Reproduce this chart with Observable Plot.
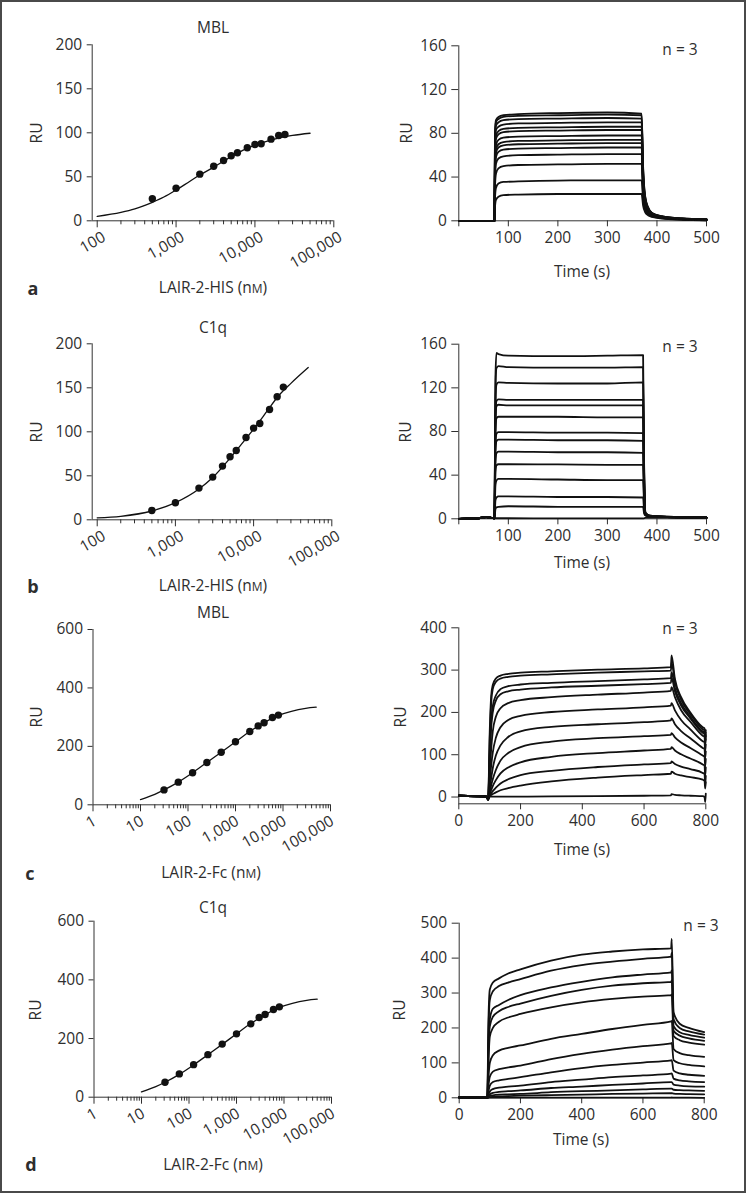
<!DOCTYPE html>
<html><head><meta charset="utf-8">
<script src="https://cdn.jsdelivr.net/npm/d3@7"></script>
<script src="https://cdn.jsdelivr.net/npm/@observablehq/plot@0.6"></script>
<style>
html,body{margin:0;padding:0;background:#fff;}
#fig{position:relative;width:746px;height:1193px;font-family:"Open Sans",sans-serif;color:#2e2e2e;overflow:hidden;background:#fff}
#frame{position:absolute;left:0;top:0;width:746px;height:1193px;box-sizing:border-box;border:2px solid #4a4a4a;pointer-events:none}
.lbl{position:absolute;font-size:15.5px;white-space:nowrap;transform:translate(-50%,-50%);line-height:1}
.ru{transform:translate(-50%,-50%) rotate(-90deg);}
.pl{font-weight:bold;font-size:18px;}
.sc{font-size:12px;}
</style></head><body><div id="fig"><div id="frame"></div></div>
<script>
// ================= DATA =================
// (a) MBL vs LAIR-2-HIS: dose-response
const aConc = [500, 1000, 2000, 3000, 4000, 5000, 6000, 8000, 10000, 12000, 16000, 20000, 24000];
const aRU   = [25, 37, 53, 62, 68.6, 73.9, 77.3, 83, 86.7, 87.5, 92.8, 97, 98.1];
const aFitConc = [100, 200, 300, 500, 700, 1000, 1500, 2000, 3000, 5000, 7000, 10000, 15000, 20000, 30000, 50000];
const aFitRU   = [5, 9.5, 13.5, 21, 27, 35, 45, 52, 61, 73, 80, 86, 91, 94, 97, 99.5];
// (a) sensorgrams
const aTime = [0, 72, 73, 75, 80, 90, 120, 200, 300, 369, 372, 376, 382, 390, 410, 450, 500];
const aCurves = [
  [0, 0, 12, 19, 22, 23.5, 24, 24.5, 24.5, 24.5, 14, 8, 5, 3.5, 2, 1, 0.5],
  [0, 0, 20, 30, 34, 35.5, 36, 36.8, 37, 37, 19, 10, 6, 4, 2.5, 1.2, 0.5],
  [0, 0, 30, 43, 48, 50, 51, 51.5, 52, 52, 24, 12, 7, 4.5, 2.7, 1.3, 0.6],
  [0, 0, 36, 52, 57, 59, 60, 60.5, 61, 61, 28, 13, 7.5, 5, 3, 1.4, 0.7],
  [0, 0, 42, 58, 63, 65, 66, 66.5, 67, 67, 31, 14, 8, 5, 3, 1.5, 0.8],
  [0, 0, 46, 62, 67, 69, 70, 70.5, 71, 71, 33, 15, 8.5, 5.3, 3.1, 1.5, 0.8],
  [0, 0, 50, 65, 70, 72, 73, 73.5, 74, 74, 35, 16, 9, 5.5, 3.2, 1.6, 0.9],
  [0, 0, 54, 69, 74, 76, 77, 77.5, 78, 78, 37, 17, 9.5, 5.8, 3.3, 1.7, 1],
  [0, 0, 60, 75, 79, 81, 82, 82.5, 83, 83, 40, 18, 10, 6, 3.5, 1.8, 1],
  [0, 0, 63, 78, 82, 84, 85, 85.5, 86, 86, 42, 19, 10.5, 6.2, 3.6, 1.9, 1.1],
  [0, 0, 68, 83, 86, 88, 89, 89.5, 90, 90, 44, 20, 11, 6.5, 3.7, 2, 1.2],
  [0, 0, 73, 87, 90, 92, 93, 93.5, 94, 93.5, 46, 21, 11.5, 6.8, 3.8, 2, 1.3],
  [0, 0, 77, 90, 93, 95, 96, 96.5, 97, 96.5, 48, 22, 12, 7, 4, 2.1, 1.4],
  [0, 0, 80, 92, 95, 96.5, 97.5, 98.5, 99, 98, 50, 23, 12.5, 7.2, 4.2, 2.2, 1.5]
];

// (b) C1q vs LAIR-2-HIS
const bConc = [500, 1000, 2000, 3000, 4000, 5000, 6000, 8000, 10000, 12000, 16000, 20000, 24000];
const bRU   = [10.6, 19.3, 36, 48.5, 61, 71.6, 78.8, 93.6, 104.2, 109.5, 125.4, 139.8, 150.8];
const bFitConc = [100, 200, 500, 1000, 2000, 3000, 5000, 7000, 10000, 15000, 20000, 30000, 50000];
const bFitRU   = [2.3, 4, 10, 19.5, 35, 48, 70, 86, 103, 124, 139, 155, 173];
const bTime = [0, 40, 55, 72, 74, 76, 80, 100, 200, 300, 372, 374, 377, 385, 420, 500];
const bCurves = [
  [0, 0.5, 1.5, 0.5, 9, 10.5, 11, 11.5, 11, 11, 11, 5, 3, 2, 1.5, 1],
  [0, 0.5, 1.5, 0.5, 17, 19.5, 20.5, 20.5, 20, 20, 19.5, 8, 3.2, 2, 1.5, 1],
  [0, 0.5, 1.5, 0.5, 31, 35, 36.5, 36.5, 36, 35.5, 35.5, 13, 3.5, 2.2, 1.5, 1],
  [0, 0.5, 1.5, 0.5, 43, 49, 50, 50, 49.8, 49.5, 49.5, 18, 3.8, 2.3, 1.6, 1],
  [0, 0.5, 1.5, 0.5, 52, 60, 61.5, 61.5, 61, 61, 60.5, 22, 4, 2.4, 1.6, 1],
  [0, 0.5, 1.5, 0.5, 62, 71, 72.5, 72.5, 72, 72, 71.5, 26, 4.2, 2.5, 1.7, 1],
  [0, 0.5, 1.5, 0.5, 68, 78, 79.5, 79.5, 79, 79, 78.5, 28, 4.3, 2.5, 1.7, 1],
  [0, 0.5, 1.5, 0.5, 80, 92, 93.5, 93.5, 93.5, 93, 93, 33, 4.5, 2.6, 1.7, 1],
  [0, 0.5, 1.5, 0.5, 90, 103, 104.5, 104, 104, 104, 104, 37, 4.7, 2.7, 1.8, 1],
  [0, 0.5, 1.5, 0.5, 94, 108, 109.5, 109, 109, 109, 109, 39, 4.8, 2.7, 1.8, 1.1],
  [0, 0.5, 1.5, 0.5, 107, 123, 125, 124.5, 124, 124, 125, 44, 5, 2.8, 1.8, 1.1],
  [0, 0.5, 1.5, 0.5, 120, 138, 140, 139, 138.5, 138.5, 139, 49, 5.2, 2.9, 1.9, 1.1],
  [0, 0.5, 1.5, 0.5, 130, 152, 151, 149.5, 149, 149.5, 150, 53, 5.4, 3, 1.9, 1.1],
  [0, 0.5, 1.5, 0.5, 0.5, 0.5, 0.5, 0.5, 0.3, 0.3, 0.3, 0.5, 1, 1, 1, 1]
];

// (c) MBL vs LAIR-2-Fc
const cConc = [31.25, 62.5, 125, 250, 500, 1000, 2000, 3000, 4000, 6000, 8000];
const cRU   = [51, 77.6, 109.5, 145, 180, 215.6, 251, 270, 280.6, 299, 307];
const cFitConc = [10, 20, 31.25, 62.5, 125, 250, 500, 1000, 2000, 4000, 8000, 15000, 30000, 50000];
const cFitRU   = [18, 36, 51, 77.6, 109.5, 145, 180, 215.6, 251, 281, 306, 320, 330, 334];
const cTime = [0, 90, 95, 100, 105, 110, 120, 135, 160, 200, 300, 450, 600, 687, 689, 700, 720, 750, 790, 796, 798, 800];
const cCurves = [
  [3, 1, -6, 150, 240, 265, 280, 287, 291, 294, 297, 301, 304, 307, 335, 279, 236, 200, 165, 162, 145, 158],
  [3, 1, -6, 130, 225, 255, 272, 280, 284, 287, 290, 294, 297, 299, 318, 272, 230, 196, 160, 157, 140, 152],
  [3, 1, -6, 100, 180, 215, 240, 255, 262, 266, 270, 274, 278, 281, 295, 258, 222, 190, 155, 152, 135, 147],
  [3, 1, -6, 90, 165, 200, 228, 243, 250, 254, 259, 263, 267, 270, 282, 250, 216, 186, 152, 149, 130, 144],
  [3, 1, -6, 60, 115, 155, 190, 210, 222, 229, 236, 242, 247, 251, 260, 236, 205, 178, 145, 142, 122, 137],
  [3, 1, -6, 35, 75, 105, 140, 165, 182, 192, 201, 207, 212, 216, 222, 205, 182, 160, 132, 129, 108, 124],
  [3, 1, -6, 20, 45, 68, 98, 122, 142, 155, 166, 172, 177, 181, 186, 172, 156, 139, 116, 113, 92, 108],
  [3, 1, -6, 12, 28, 42, 64, 86, 104, 118, 131, 139, 144, 147, 151, 141, 129, 116, 98, 95, 72, 90],
  [3, 1, -6, 7, 17, 26, 40, 56, 70, 82, 95, 104, 110, 114, 118, 110, 101, 91, 77, 74, 50, 70],
  [3, 1, -6, 4, 9, 14, 22, 32, 42, 52, 62, 71, 77, 80, 84, 78, 72, 66, 57, 54, 28, 50],
  [3, 1, -6, 2, 5, 7, 11, 16, 21, 27, 37, 46, 52, 55, 60, 55, 51, 47, 41, 38, 20, 35],
  [3, 1, -6, 1, 1, 1, 1, 1, 1, 1, 1.5, 2, 3, 4, 7, 5, 4, 3, 2, 0, -12, 8]
];

// (d) C1q vs LAIR-2-Fc
const dConc = [31.25, 62.5, 125, 250, 500, 1000, 2000, 3000, 4000, 6000, 8000];
const dRU   = [51, 79.5, 111, 145, 181, 216, 250, 271.6, 282, 299, 308];
const dFitConc = [10, 20, 31.25, 62.5, 125, 250, 500, 1000, 2000, 4000, 8000, 15000, 30000, 50000];
const dFitRU   = [18, 36, 51, 78, 110, 145, 180, 216, 251, 281, 306, 320, 330, 334];
const dTime = [0, 88, 92, 95, 100, 110, 130, 160, 200, 300, 400, 500, 600, 692, 694, 700, 720, 750, 800];
const dCurves = [
  [1, 0.5, 0, 200, 310, 330, 342, 356, 368, 393, 410, 419, 425, 428, 455, 245, 212, 200, 188],
  [1, 0.5, 0, 170, 280, 305, 320, 330, 340, 364, 380, 390, 398, 404, 415, 225, 200, 190, 181],
  [1, 0.5, 0, 130, 225, 255, 266, 280, 294, 316, 332, 345, 353, 359, 365, 205, 188, 180, 172],
  [1, 0.5, 0, 110, 205, 232, 248, 260, 270, 292, 309, 321, 328, 332, 336, 192, 178, 170, 163],
  [1, 0.5, 0, 90, 175, 200, 218, 230, 240, 259, 273, 283, 290, 294, 296, 177, 165, 158, 152],
  [1, 0.5, 0, 50, 100, 122, 135, 143, 150, 169, 183, 197, 209, 219, 220, 140, 128, 122, 117],
  [1, 0.5, 0, 30, 60, 75, 82, 87, 92, 111, 126, 138, 148, 156, 157, 108, 99, 94, 90],
  [1, 0.5, 0, 15, 35, 45, 50, 54, 59, 73, 85, 94, 101, 107, 108, 78, 70, 66, 63],
  [1, 0.5, 0, 8, 18, 25, 29, 32, 35, 45, 52, 59, 64, 69, 70, 55, 50, 47, 45],
  [1, 0.5, 0, 4, 10, 14, 17, 19, 21, 28, 32, 37, 41, 45, 45, 38, 35, 33, 32],
  [1, 0.5, 0, 2, 5, 7, 9, 10, 11, 16, 19, 21, 24, 26, 26, 23, 22, 21, 20],
  [1, 0.5, 0, 1, 2, 3, 4, 5, 6, 7.5, 9, 11, 12, 13, 13, 12, 11, 10.5, 10],
  [1, 0.5, 0, 0, 0.5, 0.5, 0.5, 0.5, 0.5, 0.5, 0.5, 0.5, 0.5, 0.5, 1, 0.5, 0.5, 0.5, 0]
];

// tick values
const logMajorHIS = [100, 1000, 10000, 100000];
const logMajorFc = [1, 10, 100, 1000, 10000, 100000];
const yTicksHIS = [0, 50, 100, 150, 200];
const yTicksFc = [0, 200, 400, 600];
const yTicksA = [0, 40, 80, 120, 160];
const yTicksC = [0, 100, 200, 300, 400];
const yTicksD = [0, 100, 200, 300, 400, 500];
const tTicks500 = [0, 100, 200, 300, 400, 500];
const tTicks800 = [0, 200, 400, 600, 800];

// ================= DRAWING =================
const fig = document.getElementById("fig");
const STYLE = {fontFamily: '"Open Sans", sans-serif', fontSize: "15.5px", color: "#2e2e2e", background: "transparent", overflow: "visible"};
const INK = "#111";
const fmt = d3.format(",");

function minorTicks(lo, hi) {
  const t = [];
  for (let e = lo; e < hi; e++) for (let k = 2; k <= 9; k++) t.push(k * Math.pow(10, e));
  return t;
}
function pts(xs, ys) { return xs.map((x, i) => ({x, y: ys[i]})); }
function rows(times, curves) { return curves.flatMap((c, k) => times.map((t, i) => ({t, v: c[i], k}))); }

function panel(o) {
  const W = 373, H = 285;
  const svg = Plot.plot({
    width: W, height: H,
    marginLeft: o.x0 - o.left, marginRight: o.left + W - o.x1,
    marginTop: o.yT - o.top, marginBottom: o.top + H - o.yB,
    x: {...o.x, label: null}, y: {...o.y, label: null},
    style: STYLE,
    marks: o.marks
  });
  svg.style.position = "absolute";
  svg.style.left = o.left + "px";
  svg.style.top = o.top + "px";
  svg.style.maxWidth = "none";
  fig.appendChild(svg);
}

function label(html, x, y, cls = "") {
  const d = document.createElement("div");
  d.className = "lbl " + cls;
  d.innerHTML = html;
  d.style.left = x + "px";
  d.style.top = y + "px";
  fig.appendChild(d);
}

function doseMarks(conc, ru, fitC, fitR, xMin, yMin, majors, minors, yTicks, dx) {
  return [
    Plot.ruleX([xMin], {stroke: "#333", strokeWidth: 1}),
    Plot.ruleY([yMin], {stroke: "#333", strokeWidth: 1}),
    Plot.axisY({ticks: yTicks, tickSize: 5, tickPadding: 5, label: null}),
    Plot.axisX({ticks: majors, tickSize: 7, fill: "none", label: null}),
    Plot.axisX({ticks: minors, tickSize: 4, fill: "none", label: null}),
    Plot.axisX({ticks: majors, tickSize: 0, tickPadding: 15, tickRotate: -30, dx, tickFormat: fmt, label: null}),
    Plot.line(pts(fitC, fitR), {x: "x", y: "y", curve: "monotone-x", stroke: INK, strokeWidth: 1.3}),
    Plot.dot(pts(conc, ru), {x: "x", y: "y", r: 3.7, fill: INK, stroke: "none"})
  ];
}

function sensorMarks(time, curves, yMin, yTicks, tTicks, hideZero) {
  return [
    Plot.ruleX([0], {stroke: "#333", strokeWidth: 1}),
    Plot.ruleY([yMin], {stroke: "#333", strokeWidth: 1}),
    Plot.axisY({ticks: yTicks, tickSize: 7, tickPadding: 5, label: null}),
    Plot.axisX({ticks: tTicks, tickSize: 6, tickPadding: 5, tickFormat: d => (hideZero && d === 0) ? "" : String(d), label: null}),
    Plot.line(rows(time, curves), {x: "t", y: "v", z: "k", curve: "monotone-x", stroke: INK, strokeWidth: 1.8})
  ];
}

// ---- (a) ----
panel({left: 0, top: 0, x0: 91.7, x1: 333.3, yT: 44.3, yB: 220.3,
  x: {type: "log", domain: [86.4, 100000]}, y: {domain: [0, 200]},
  marks: doseMarks(aConc, aRU, aFitConc, aFitRU, 86.4, 0, logMajorHIS, minorTicks(2, 5), yTicksHIS, 7)});
panel({left: 373, top: 0, x0: 458.3, x1: 706, yT: 45.3, yB: 220.3,
  x: {domain: [0, 500]}, y: {domain: [0, 160]},
  marks: sensorMarks(aTime, aCurves, 0, yTicksA, tTicks500, true)});

// ---- (b) ----
panel({left: 0, top: 300, x0: 91.7, x1: 331.3, yT: 343.3, yB: 519.3,
  x: {type: "log", domain: [86.3, 100000]}, y: {domain: [0, 200]},
  marks: doseMarks(bConc, bRU, bFitConc, bFitRU, 86.3, 0, logMajorHIS, minorTicks(2, 5), yTicksHIS, 7)});
panel({left: 373, top: 300, x0: 458.3, x1: 706, yT: 343.7, yB: 518.3,
  x: {domain: [0, 500]}, y: {domain: [0, 160]},
  marks: sensorMarks(bTime, bCurves, 0, yTicksA, tTicks500, true)});

// ---- (c) ----
panel({left: 0, top: 580, x0: 92.5, x1: 330, yT: 629, yB: 804.3,
  x: {type: "log", domain: [1, 100000]}, y: {domain: [0, 600]},
  marks: doseMarks(cConc, cRU, cFitConc, cFitRU, 1, 0, logMajorFc, minorTicks(0, 5), yTicksFc, 2)});
panel({left: 373, top: 580, x0: 458.3, x1: 705.3, yT: 627.3, yB: 803.3,
  x: {domain: [0, 800]}, y: {domain: [-16, 400]},
  marks: sensorMarks(cTime, cCurves, -16, yTicksC, tTicks800, false)});

// ---- (d) ----
panel({left: 0, top: 880, x0: 93.5, x1: 331, yT: 920.7, yB: 1096.7,
  x: {type: "log", domain: [1, 100000]}, y: {domain: [0, 600]},
  marks: doseMarks(dConc, dRU, dFitConc, dFitRU, 1, 0, logMajorFc, minorTicks(0, 5), yTicksFc, 2)});
panel({left: 373, top: 880, x0: 458.7, x1: 703.7, yT: 922.7, yB: 1097.3,
  x: {domain: [0, 800]}, y: {domain: [0, 500]},
  marks: sensorMarks(dTime, dCurves, 0, yTicksD, tTicks800, false)});

// ---- labels ----
const nM = 'n<span class="sc">M</span>';
label("MBL", 213, 28);
label("RU", 37, 133, "ru");
label("LAIR-2-HIS (" + nM + ")", 213, 288);
label("a", 33, 288, "pl");
label("n = 3", 680, 50);
label("RU", 407, 133, "ru");
label("Time (s)", 582, 272);

label("C1q", 213, 328);
label("RU", 37, 432, "ru");
label("LAIR-2-HIS (" + nM + ")", 213, 586);
label("b", 33, 586, "pl");
label("n = 3", 680, 347);
label("RU", 406, 432, "ru");
label("Time (s)", 582, 563);

label("MBL", 213, 613);
label("RU", 37, 717, "ru");
label("LAIR-2-Fc (" + nM + ")", 211, 873);
label("c", 30, 873, "pl");
label("n = 3", 680, 629);
label("RU", 401, 717, "ru");
label("Time (s)", 582, 850);

label("C1q", 213, 908);
label("RU", 36, 1010, "ru");
label("LAIR-2-Fc (" + nM + ")", 213, 1165);
label("d", 31, 1164, "pl");
label("n = 3", 701, 926);
label("RU", 400, 1010, "ru");
label("Time (s)", 581, 1140);
</script></body></html>
